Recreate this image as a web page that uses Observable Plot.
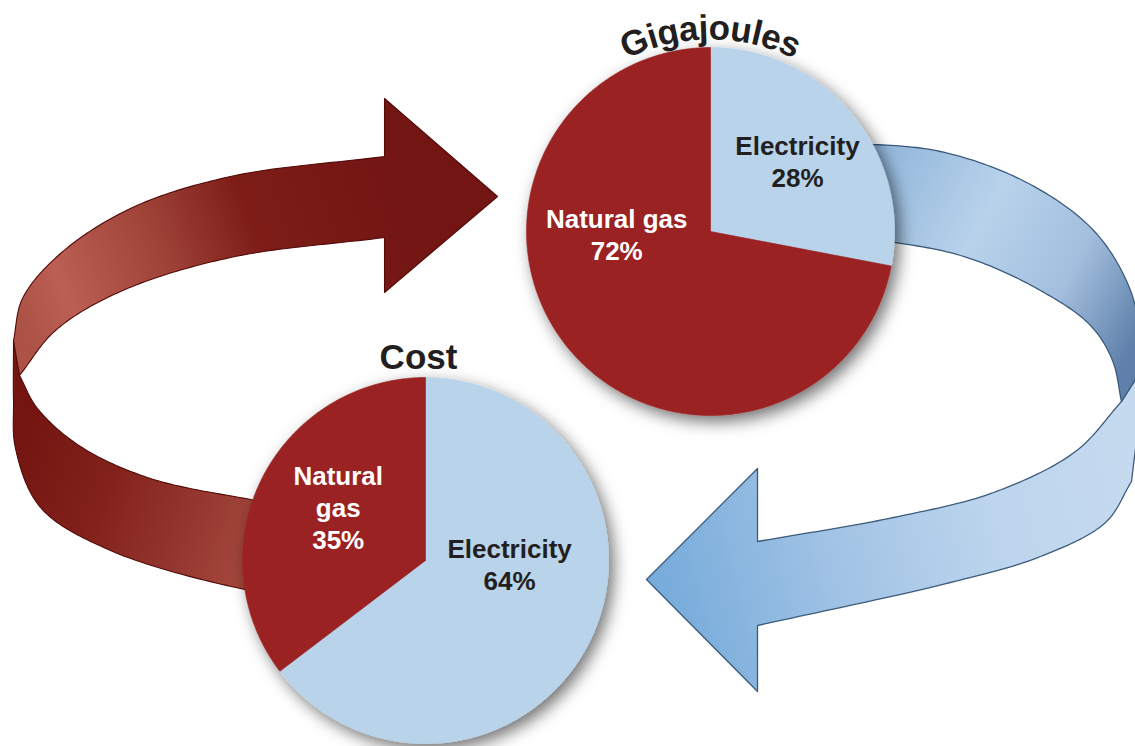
<!DOCTYPE html>
<html><head><meta charset="utf-8">
<script src="https://cdn.jsdelivr.net/npm/d3@7"></script>
<script src="https://cdn.jsdelivr.net/npm/@observablehq/plot@0.6"></script>
<style>html,body{margin:0;padding:0;background:#fff;overflow:hidden}</style>
</head><body><div id="chart"></div>
<script>
// ---------- DATA ----------
const categories = ["Electricity", "Natural gas"];
const gigajoulesShare = [28, 72];   // % of gigajoules
const costShare = [64, 35];         // % of cost
const pieTitles = ["Gigajoules", "Cost"];

// ---------- LAYOUT (positions / styles, not data) ----------
const W = 1135, H = 746;
const FONT = '"Liberation Sans", Arial, Helvetica, sans-serif';
const colors = {"Electricity": "#b8d3ea", "Natural gas": "#9b2423"};
const textColors = {"Electricity": "#231f20", "Natural gas": "#ffffff"};
const layout = {
  Gigajoules: {cx: 710, cy: 231, r: 184, titleR: 192,
    labels: {"Electricity": {a: 50.8, f: 0.61, wrap: false}, "Natural gas": {a: 268.5, f: 0.51, wrap: false}}},
  Cost: {cx: 425, cy: 560, r: 183, titleX: 418, titleY: 368,
    labels: {"Electricity": {a: 92.4, f: 0.46, wrap: false}, "Natural gas": {a: 301.6, f: 0.56, wrap: true}}}
};
// decorative ribbon arrows: outline anchors (smooth = centripetal catmull-rom, straight = polyline)
const decor = {
  redUpper: [
    ["straight", [[384,156],[384,98],[497,196],[384,292],[384,237]]],
    ["smooth", [[384,237],[230,257],[120,291],[55,330],[19,375]]],
    ["smooth", [[13,340],[22,298],[60,253],[130,208],[230,176],[384,156]]]
  ],
  redLower: [
    ["smooth", [[13,340],[13,400],[15,448],[40,507],[110,550],[240,588],[300,596]]],
    ["straight", [[300,596],[300,508]]],
    ["smooth", [[300,508],[250,499],[150,478],[80,446],[37,408],[19,375]]]
  ],
  blueUpper: [
    ["smooth", [[840,142],[940,151],[1030,184],[1095,232],[1130,290],[1141,345],[1142,368]]],
    ["straight", [[1142,368],[1121,401]]],
    ["smooth", [[1121,401],[1112,360],[1090,325],[1040,290],[960,255],[840,234]]]
  ],
  blueLower: [
    ["smooth", [[1142,368],[1137,430],[1131,481]]],
    ["smooth", [[1131,481],[1105,522],[1040,556],[950,582],[757,625]]],
    ["straight", [[757,625],[757,691],[646,579],[757,468],[757,541]]],
    ["smooth", [[757,541],[893,517],[993,492],[1075,451],[1121,401]]]
  ]
};

// ---------- helpers ----------
function centripetal(pts, n = 24) {
  const P = pts.slice();
  const ext0 = [2 * P[0][0] - P[1][0], 2 * P[0][1] - P[1][1]];
  const m = P.length;
  const ext1 = [2 * P[m - 1][0] - P[m - 2][0], 2 * P[m - 1][1] - P[m - 2][1]];
  const Q = [ext0, ...P, ext1];
  const out = [];
  const d = (a, b) => Math.max(1e-6, Math.pow(Math.hypot(b[0] - a[0], b[1] - a[1]), 0.5));
  const lerp = (a, b, ta, tb, t) => [(tb - t) / (tb - ta) * a[0] + (t - ta) / (tb - ta) * b[0], (tb - t) / (tb - ta) * a[1] + (t - ta) / (tb - ta) * b[1]];
  for (let i = 1; i < Q.length - 2; i++) {
    const p0 = Q[i - 1], p1 = Q[i], p2 = Q[i + 1], p3 = Q[i + 2];
    const t0 = 0, t1 = t0 + d(p0, p1), t2 = t1 + d(p1, p2), t3 = t2 + d(p2, p3);
    for (let k = 0; k < n; k++) {
      const t = t1 + (t2 - t1) * k / n;
      const A1 = lerp(p0, p1, t0, t1, t), A2 = lerp(p1, p2, t1, t2, t), A3 = lerp(p2, p3, t2, t3, t);
      const B1 = lerp(A1, A2, t0, t2, t), B2 = lerp(A2, A3, t1, t3, t);
      out.push(lerp(B1, B2, t1, t2, t));
    }
  }
  out.push(P[m - 1]);
  return out;
}
function outline(parts) {
  let pts = [];
  for (const [kind, a] of parts) pts = pts.concat(kind === "smooth" ? centripetal(a) : a);
  pts.push(pts[0]);
  return pts.map(([x, y]) => ({x, y}));
}

// pie slices built from the data with d3.pie
const pies = [
  {title: pieTitles[0], values: gigajoulesShare},
  {title: pieTitles[1], values: costShare}
];
const sliceRows = [], labelRows = [];
for (const p of pies) {
  const L = layout[p.title];
  const arcs = d3.pie().sort(null).value(d => d.v)(categories.map((c, i) => ({c, v: p.values[i]})));
  for (const a of arcs) {
    const key = p.title + "|" + a.data.c;
    sliceRows.push({key, cat: a.data.c, x: L.cx, y: L.cy});
    const n = Math.max(2, Math.ceil((a.endAngle - a.startAngle) / (Math.PI / 360)));
    for (let k = 0; k <= n; k++) {
      const t = a.startAngle + (a.endAngle - a.startAngle) * k / n;
      sliceRows.push({key, cat: a.data.c, x: L.cx + L.r * Math.sin(t), y: L.cy - L.r * Math.cos(t)});
    }
    sliceRows.push({key, cat: a.data.c, x: L.cx, y: L.cy});
    const lp = L.labels[a.data.c];
    const ang = lp.a * Math.PI / 180;
    const name = lp.wrap ? a.data.c.replace(" ", "\n") : a.data.c;
    labelRows.push({cat: a.data.c, text: `${name}\n${a.data.v}%`,
      x: L.cx + L.r * lp.f * Math.sin(ang), y: L.cy - L.r * lp.f * Math.cos(ang)});
  }
}

// curved "Gigajoules" title
const ctx = document.createElement("canvas").getContext("2d");
const titleSize = 35;
ctx.font = `bold ${titleSize}px ${FONT}`;
const G = layout.Gigajoules;
const chars = [...pieTitles[0]];
const widths = chars.map(ch => ctx.measureText(ch).width * 0.97);
const total = d3.sum(widths);
let acc = -total / 2;
const arcLetters = chars.map((ch, i) => {
  const s = acc + widths[i] / 2; acc += widths[i];
  const th = s / G.titleR;
  return {ch, x: G.cx + G.titleR * Math.sin(th), y: G.cy - G.titleR * Math.cos(th), rot: th * 180 / Math.PI};
});

const sliceBySlice = pies.map(p => sliceRows.filter(d => d.key.startsWith(p.title + "|")));

const chart = Plot.plot({
  width: W, height: H,
  margin: 0,
  x: {domain: [0, W], range: [0, W], axis: null},
  y: {domain: [0, H], range: [0, H], axis: null},
  color: {domain: categories, range: categories.map(c => colors[c])},
  style: {background: "#fff", fontFamily: FONT},
  marks: [
    Plot.line(outline(decor.redLower), {x: "x", y: "y", fill: "url(#gRedLow)", stroke: "#520a07", strokeWidth: 1.1, strokeLinejoin: "round"}),
    Plot.line(outline(decor.redUpper), {x: "x", y: "y", fill: "url(#gRedUp)", stroke: "#520a07", strokeWidth: 1.1, strokeLinejoin: "round"}),
    Plot.line(outline(decor.blueLower), {x: "x", y: "y", fill: "url(#gBlueLow)", stroke: "#3b5b7c", strokeWidth: 1.3, strokeLinejoin: "round"}),
    Plot.line(outline(decor.blueUpper), {x: "x", y: "y", fill: "url(#gBlueUp)", stroke: "#3b5b7c", strokeWidth: 1.3, strokeLinejoin: "round"}),
    ...sliceBySlice.map(rows => Plot.line(rows, {x: "x", y: "y", z: "key", fill: "cat", stroke: "cat", strokeWidth: 0.6, ariaDescription: "pie"})),
    Plot.text(labelRows.filter(d => d.cat === "Electricity"), {x: "x", y: "y", text: "text", fill: textColors["Electricity"], fontSize: 26, fontWeight: "bold", lineHeight: 1.22, lineAnchor: "middle", textAnchor: "middle", fontFamily: FONT}),
    Plot.text(labelRows.filter(d => d.cat === "Natural gas"), {x: "x", y: "y", text: "text", fill: textColors["Natural gas"], fontSize: 26, fontWeight: "bold", lineHeight: 1.22, lineAnchor: "middle", textAnchor: "middle", fontFamily: FONT}),
    Plot.text(arcLetters, {x: "x", y: "y", text: "ch", rotate: "rot", fill: "#231f20", fontSize: titleSize, fontWeight: "bold", lineAnchor: "bottom", textAnchor: "middle", fontFamily: FONT}),
    Plot.text([pieTitles[1]], {x: layout.Cost.titleX, y: layout.Cost.titleY, text: d => d, fill: "#231f20", fontSize: titleSize, fontWeight: "bold", lineAnchor: "bottom", textAnchor: "middle", fontFamily: FONT})
  ]
});

// gradients + drop shadow definitions
const NS = "http://www.w3.org/2000/svg";
const defs = document.createElementNS(NS, "defs");
function grad(id, x1, y1, x2, y2, stops) {
  const g = document.createElementNS(NS, "linearGradient");
  g.setAttribute("id", id); g.setAttribute("gradientUnits", "userSpaceOnUse");
  g.setAttribute("x1", x1); g.setAttribute("y1", y1); g.setAttribute("x2", x2); g.setAttribute("y2", y2);
  for (const [o, c] of stops) { const s = document.createElementNS(NS, "stop"); s.setAttribute("offset", o); s.setAttribute("stop-color", c); g.appendChild(s); }
  defs.appendChild(g);
}
grad("gRedUp", 15, 300, 390, 160, [[0, "#ad5247"], [0.12, "#bb5f55"], [0.38, "#9f4339"], [0.62, "#7e1d18"], [1, "#731513"]]);
grad("gRedLow", 15, 450, 250, 540, [[0, "#741511"], [0.4, "#83221c"], [0.8, "#983a31"], [1, "#a2463c"]]);
grad("gBlueUp", 860, 180, 1140, 330, [[0, "#90b5da"], [0.4, "#b8d2eb"], [0.72, "#a3bfde"], [1, "#5f80aa"]]);
grad("gBlueLow", 1140, 470, 650, 600, [[0, "#c6daef"], [0.3, "#bdd5ed"], [0.62, "#a2c3e5"], [1, "#74aada"]]);
const f = document.createElementNS(NS, "filter");
f.setAttribute("id", "pieShadow"); f.setAttribute("x", "-20%"); f.setAttribute("y", "-20%");
f.setAttribute("width", "150%"); f.setAttribute("height", "150%");
const ds = document.createElementNS(NS, "feDropShadow");
ds.setAttribute("dx", "5"); ds.setAttribute("dy", "6"); ds.setAttribute("stdDeviation", "8");
ds.setAttribute("flood-color", "#000"); ds.setAttribute("flood-opacity", "0.55");
f.appendChild(ds); defs.appendChild(f);
chart.insertBefore(defs, chart.firstChild);
let pieGroups = chart.querySelectorAll('g[aria-description="pie"]');
if (!pieGroups.length) {
  const gs = [...chart.querySelectorAll(':scope > g')];
  pieGroups = gs.slice(4, 6);
}
pieGroups.forEach(g => g.setAttribute("filter", "url(#pieShadow)"));
document.getElementById("chart").appendChild(chart);
</script>
</body></html>
